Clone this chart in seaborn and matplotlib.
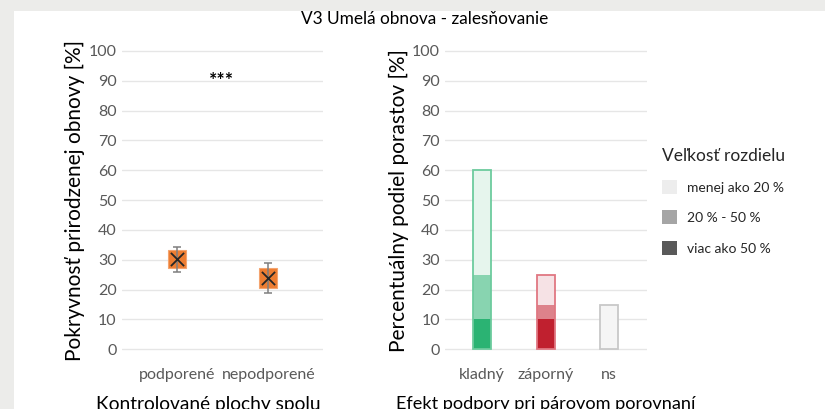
import numpy as np
import pandas as pd
import matplotlib
matplotlib.use("Agg")
import matplotlib.pyplot as plt
from matplotlib.patches import Patch, Rectangle
import seaborn as sns

# left panel - pokryvnost prirodzenej obnovy
kategorie = ["podporené", "nepodporené"]
priemer = [30.2, 24.0]
box_dole = [27.2, 20.4]
box_hore = [33.3, 27.4]
chyba_dole = [26.0, 19.0]
chyba_hore = [34.4, 28.8]

# right panel - podiel porastov podla efektu
efekty = ["kladný", "záporný", "ns"]
viac_50 = [10, 10, 0]
od_20_do_50 = [15, 5, 0]
menej_20 = [35, 10, 15]

farby_tmave = ["#2BB373", "#C0202F", "#F5F5F5"]
farby_stredne = ["#88D4B0", "#DD828B", "#F5F5F5"]
farby_svetle = ["#E6F5ED", "#F6E2E5", "#F5F5F5"]
farby_okraj = ["#6DCB9E", "#E07782", "#C8C8C8"]

legenda_popisy = ["menej ako 20 %", "20 % - 50 %", "viac ako 50 %"]
legenda_farby = ["#EDEDED", "#A5A5A5", "#595959"]

sns.set_theme(style="white")
plt.rcParams["font.family"] = ["Lato", "DejaVu Sans"]

W, H = 825, 409
fig = plt.figure(figsize=(W / 100, H / 100), dpi=100, facecolor="#ECECEA")
fig.patches.append(Rectangle((14 / W, 0), 1, 1 - 11 / H, transform=fig.transFigure,
                             facecolor="white", edgecolor="none", zorder=-10))

ax1 = fig.add_axes([121.7 / W, (H - 352.3) / H, 201.6 / W, 304.3 / H])
ax2 = fig.add_axes([445 / W, (H - 352.3) / H, 201.7 / W, 304.3 / H])

tick_col = "#595959"
grid_col = "#E6E6E6"

# ---- left panel
df_l = pd.DataFrame({"kat": kategorie, "priemer": priemer, "lo": box_dole, "hi": box_hore,
                     "elo": chyba_dole, "ehi": chyba_hore})
pos = np.arange(len(df_l))
ax1.bar(pos, df_l["hi"] - df_l["lo"], bottom=df_l["lo"], width=0.197,
        color="#ED7D31", edgecolor="#F4A46F", linewidth=0.8, zorder=2)
ax1.errorbar(pos, df_l["priemer"], yerr=[df_l["priemer"] - df_l["elo"], df_l["ehi"] - df_l["priemer"]],
             fmt="none", ecolor="#7F7F7F", elinewidth=1.1, capsize=3, capthick=1.1, zorder=3)
sns.scatterplot(data=df_l, x=pos, y="priemer", marker="x", s=90, color="#262626",
                linewidth=1.3, ax=ax1, zorder=4)
ax1.text(0.49, 90.0, "***", ha="center", va="center", fontsize=14, fontweight="bold", color="black")
ax1.set_xlim(-0.6, 1.6)
ax1.set_xticks(pos)
ax1.set_xticklabels(kategorie)
ax1.set_ylabel("Pokryvnosť prirodzenej obnovy [%]", fontsize=15, color="black", labelpad=3)
ax1.set_xlabel("Kontrolované plochy spolu", fontsize=13.8, color="black")
ax1.xaxis.set_label_coords(0.43, -0.145)

# ---- right panel (stacked bars drawn back to front)
df_r = pd.DataFrame({"efekt": efekty, "viac": viac_50, "stred": od_20_do_50, "menej": menej_20})
df_r["spolu"] = df_r["viac"] + df_r["stred"] + df_r["menej"]
df_r["do_stred"] = df_r["viac"] + df_r["stred"]
for col, pal in [("spolu", farby_svetle), ("do_stred", farby_stredne), ("viac", farby_tmave)]:
    sns.barplot(data=df_r, x="efekt", y=col, hue="efekt", palette=pal, saturation=1,
                width=0.285, legend=False, linewidth=0, ax=ax2, zorder=2)
sns.barplot(data=df_r, x="efekt", y="spolu", hue="efekt", palette=farby_okraj, saturation=1,
            width=0.285, legend=False, fill=False, linewidth=1.3, ax=ax2, zorder=3)
ax2.set_xlim(-0.59, 2.6)
ax2.set_ylabel("Percentuálny podiel porastov [%]", fontsize=15, color="black", labelpad=2)
ax2.set_xlabel("Efekt podpory pri párovom porovnaní", fontsize=13.1, color="black")
ax2.xaxis.set_label_coords(0.5, -0.145)

for ax in (ax1, ax2):
    ax.set_ylim(-1, 101)
    ax.set_yticks(range(0, 101, 10))
    ax.yaxis.grid(True, color=grid_col, linewidth=1)
    ax.xaxis.grid(False)
    ax.set_axisbelow(True)
    ax.tick_params(axis="y", length=0, pad=3.6, labelsize=11.5, labelcolor=tick_col)
    ax.tick_params(axis="x", length=0, pad=11, labelsize=11.5, labelcolor=tick_col)
    ax.set_facecolor("none")
    sns.despine(ax=ax, left=True, bottom=True)

fig.text(425 / W, 1 - 19 / H, "V3 Umelá obnova - zalesňovanie", ha="center", va="center",
         fontsize=12.4, color="black")

handles = [Patch(facecolor=c, edgecolor="none") for c in legenda_farby]
fig.legend(handles, legenda_popisy, title="Veľkosť rozdielu", loc="upper left",
           bbox_to_anchor=(649 / W, 1 - 135 / H), frameon=False, fontsize=10,
           title_fontsize=12.5, handlelength=1.1, handleheight=1.2, handletextpad=0.75,
           labelspacing=1.17, alignment="left")

fig.savefig("out.png", dpi=100, facecolor=fig.get_facecolor())
